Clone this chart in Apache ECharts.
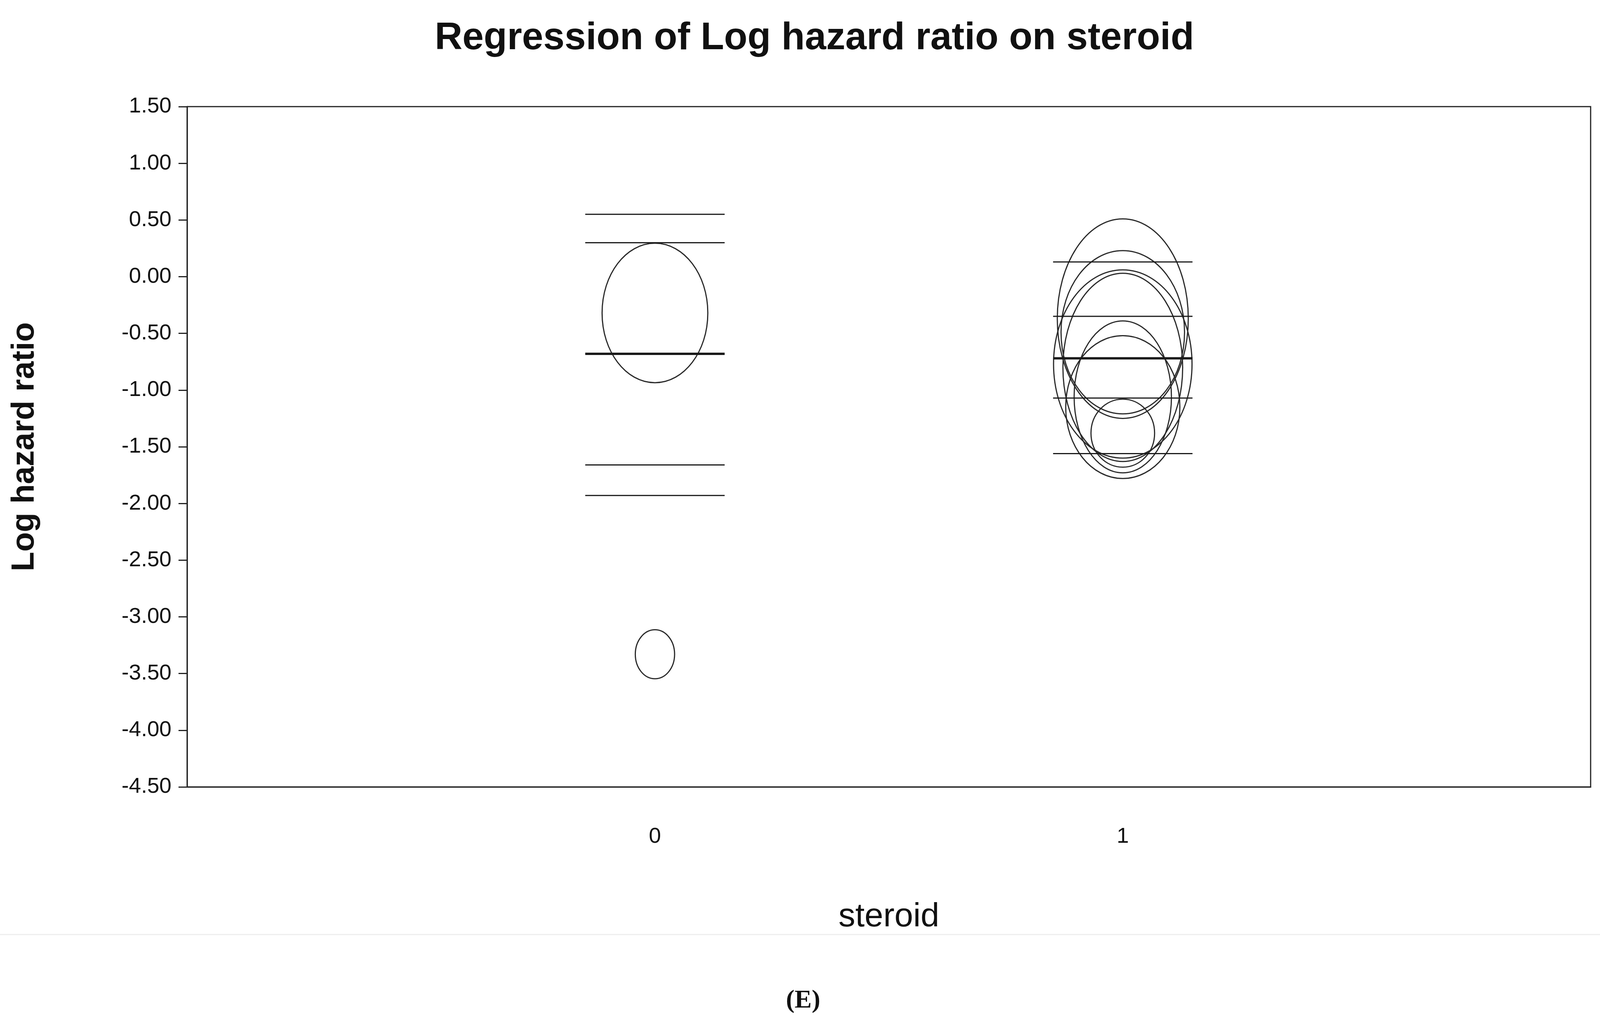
<!DOCTYPE html>
<html>
<head>
<meta charset="utf-8">
<script src="https://cdn.jsdelivr.net/npm/echarts@6/dist/echarts.min.js"></script>
<style>html,body{margin:0;padding:0;background:#fff}#main{width:4124px;height:2640px}</style>
</head>
<body>
<div id="main"></div>
<script>
// ellipses: [steroid, centre, half height (log HR units), half width (x units)]
var circles0 = [[0, -0.32, 0.615, 0.113], [0, -3.33, 0.216, 0.042]];
var circles1 = [
  [1, -0.37, 0.88, 0.140],
  [1, -0.49, 0.72, 0.132],
  [1, -0.77, 0.83, 0.148],
  [1, -0.80, 0.83, 0.128],
  [1, -1.06, 0.67, 0.104],
  [1, -1.15, 0.63, 0.122],
  [1, -1.38, 0.30, 0.068]
];
// horizontal lines: [steroid, value, thick]
var lines0 = [[0, 0.55, 0], [0, 0.30, 0], [0, -0.68, 1], [0, -1.66, 0], [0, -1.93, 0]];
var lines1 = [[1, 0.13, 0], [1, -0.35, 0], [1, -0.72, 1], [1, -1.07, 0], [1, -1.56, 0]];
var lineHalf = 0.149;

var myChart = echarts.init(document.getElementById('main'));
var font = '"Liberation Sans Narrow", "Liberation Sans", Arial, sans-serif';

function ellipseItem(params, api) {
    var c = api.coord([api.value(0), api.value(1)]);
    var s = api.size([api.value(3), api.value(2)]);
    return {
        type: 'ellipse',
        shape: { cx: c[0], cy: c[1], rx: s[0], ry: s[1] },
        style: { fill: 'none', stroke: '#2a2a2a', lineWidth: 3 }
    };
}
function lineItem(params, api) {
    var a = api.coord([api.value(0) - lineHalf, api.value(1)]);
    var b = api.coord([api.value(0) + lineHalf, api.value(1)]);
    return {
        type: 'line',
        shape: { x1: a[0], y1: a[1], x2: b[0], y2: b[1] },
        style: { stroke: '#1a1a1a', lineWidth: api.value(2) ? 6 : 3 }
    };
}

var option = {
    backgroundColor: '#fff',
    animation: false,
    title: {
        text: 'Regression of Log hazard ratio on steroid',
        left: 2080, top: 45, textAlign: 'center',
        textStyle: { fontFamily: font, fontSize: 98, fontWeight: 'bold', color: '#111' }
    },
    grid: { left: 479, right: 52, top: 273, bottom: 625, show: true, borderColor: '#222', borderWidth: 3 },
    xAxis: {
        type: 'value', min: -1, max: 2, interval: 1,
        name: 'steroid', nameLocation: 'middle', nameGap: 290,
        nameTextStyle: { fontFamily: font, fontSize: 86, color: '#111' },
        axisLine: { show: true, onZero: false, lineStyle: { color: '#222', width: 3 } },
        axisTick: { show: false },
        splitLine: { show: false },
        axisLabel: {
            margin: 100, fontFamily: font, fontSize: 56, color: '#111',
            formatter: function (v) { return (v === 0 || v === 1) ? String(v) : ''; }
        }
    },
    yAxis: {
        type: 'value', min: -4.5, max: 1.5, interval: 0.5,
        name: 'Log hazard ratio', nameLocation: 'middle', nameGap: 375,
        nameTextStyle: { fontFamily: 'Liberation Sans, Arial, sans-serif', fontSize: 82, fontWeight: 'bold', color: '#111' },
        axisLine: { show: true, onZero: false, lineStyle: { color: '#222', width: 3 } },
        axisTick: { show: true, inside: false, length: 22, lineStyle: { color: '#222', width: 3 } },
        splitLine: { show: false },
        axisLabel: {
            margin: 40, fontFamily: font, fontSize: 56, color: '#111',
            formatter: function (v) { return v.toFixed(2); }
        }
    },
    graphic: [
        { type: 'line', shape: { x1: 0, y1: 2393, x2: 4124, y2: 2393 }, style: { stroke: '#eeeeee', lineWidth: 3 } },
        { type: 'text', left: 2062 - 50, top: 2530,
          style: { text: '(E)', font: 'bold 66px "Liberation Serif", serif', fill: '#111' } }
    ],
    series: [
        { type: 'custom', renderItem: ellipseItem, data: circles0.concat(circles1), clip: false },
        { type: 'custom', renderItem: lineItem, data: lines0.concat(lines1), clip: false }
    ]
};
myChart.setOption(option);
</script>
</body>
</html>
